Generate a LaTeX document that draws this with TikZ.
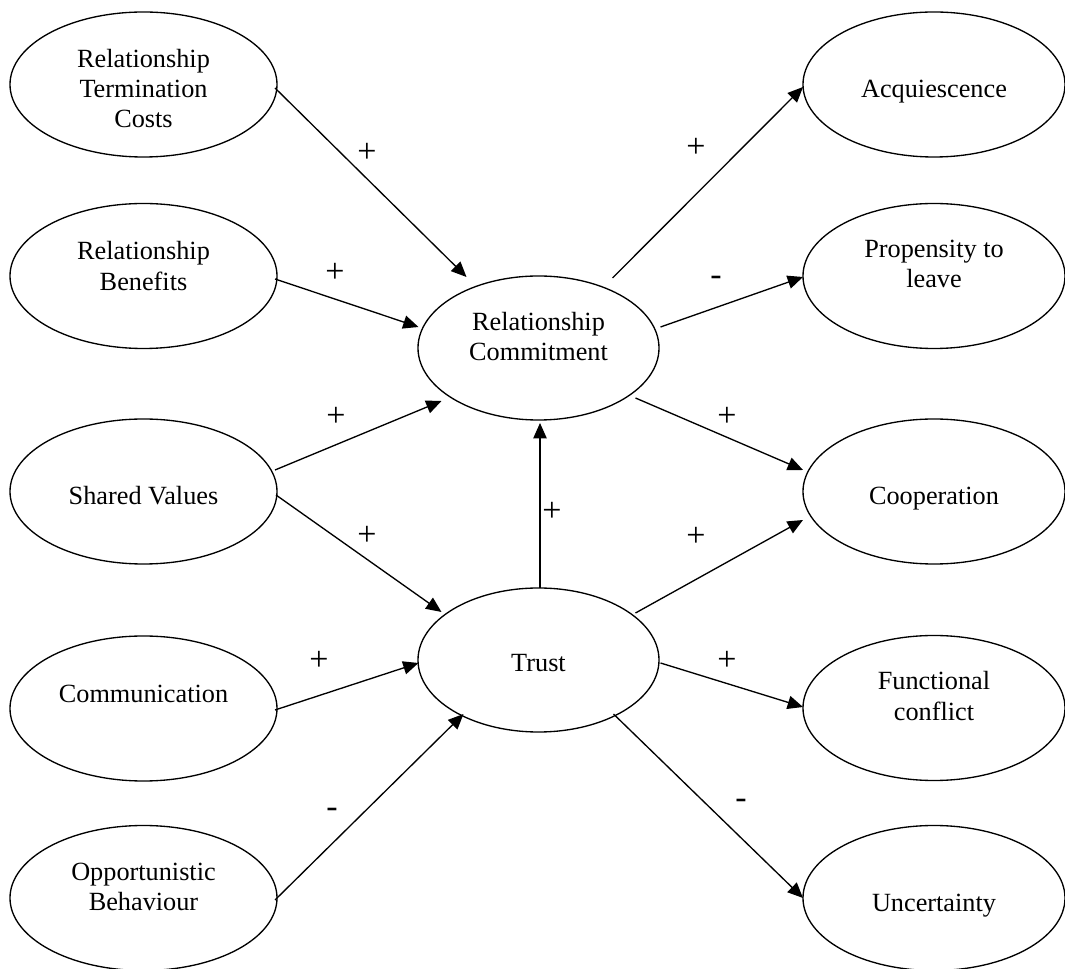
\documentclass[tikz,border=0pt]{standalone}
\usepackage{fontspec}
\setmainfont{Liberation Serif}
\usetikzlibrary{arrows.meta,shapes.geometric,calc}
\begin{document}
\begin{tikzpicture}[x=0.75pt,y=-0.75pt,
  ell/.style={draw, ellipse, line width=1pt, inner sep=0pt, outer sep=0pt},
  sidel/.style={ell, minimum width=200.25pt, minimum height=108.75pt},
  mid/.style={ell, minimum width=180.75pt, minimum height=108pt},
  sider/.style={ell, minimum width=196.5pt, minimum height=108.75pt},
  txt/.style={align=center, font=\fontsize{19.7}{22.6}\selectfont, inner sep=0pt},
  sgn/.style={font=\fontsize{25.5}{25.5}\selectfont, inner sep=0pt, text height=0.5em, text depth=0pt},
  arr/.style={line width=1pt, -{Triangle[length=11.5pt, width=10pt]}}]
\fill[white] (0,0) rectangle (1065,969);
\useasboundingbox (0,0) rectangle (1065,969);
% left column
\node[sidel, label={[txt,yshift=-3pt]center:{Relationship\\Termination\\Costs}}] (rtc) at (143.5,84.5) {};
\node[sidel, label={[txt,yshift=7.5pt]center:{Relationship\\Benefits}}] (rb) at (143.5,276) {};
\node[sidel, label={[txt,yshift=-3.4pt]center:{Shared Values}}] (sv) at (143.5,491.5) {};
\node[sidel, label={[txt,yshift=10.9pt]center:{Communication}}] (com) at (143.5,708.5) {};
\node[sidel, label={[txt,yshift=8.25pt]center:{Opportunistic\\Behaviour}}] (ob) at (143.5,898) {};
% middle
\node[mid, label={[txt,yshift=8.6pt]center:{Relationship\\Commitment}}] (rc) at (538.5,348) {};
\node[mid, label={[txt,yshift=-2.25pt]center:{Trust}}] (tr) at (538.5,660) {};
% right column
\node[sider, label={[txt,yshift=-5.6pt]center:{Acquiescence}}] (acq) at (934,84.5) {};
\node[sider, label={[txt,yshift=9pt]center:{Propensity to\\leave}}] (pro) at (934,276) {};
\node[sider, label={[txt,yshift=-5.6pt]center:{Cooperation}}] (coo) at (934,491.5) {};
\node[sider, label={[txt,yshift=9pt]center:{Functional\\conflict}}] (fc) at (934,708) {};
\node[sider, label={[txt,yshift=-5.6pt]center:{Uncertainty}}] (unc) at (934,898) {};
% connectors
\draw[arr] ($(rtc)+(131.5,3.5)$) -- ($(rc)+(-72,-71)$);
\draw[arr] ($(rb)+(131.5,3)$) -- ($(rc)+(-120,-21)$);
\draw[arr] ($(sv)+(131.5,-21.5)$) -- ($(rc)+(-97,53)$);
\draw[arr] ($(sv)+(132.5,3.5)$) -- ($(tr)+(-97,-48)$);
\draw[arr] ($(com)+(131.5,1.5)$) -- ($(tr)+(-120,3)$);
\draw[arr] ($(ob)+(131.5,2)$) -- ($(tr)+(-75,54)$);
\draw[arr] ($(tr)+(1.5,-72)$) -- ($(rc)+(1.5,75)$);
\draw[arr] ($(rc)+(74,-70)$) -- ($(acq)+(-131,2.5)$);
\draw[arr] ($(rc)+(122,-21)$) -- ($(pro)+(-131,1)$);
\draw[arr] ($(rc)+(97,50)$) -- ($(coo)+(-131,-21.5)$);
\draw[arr] ($(tr)+(97,-47)$) -- ($(coo)+(-131,28.5)$);
\draw[arr] ($(tr)+(122,3)$) -- ($(fc)+(-131,-1)$);
\draw[arr] ($(tr)+(75,54)$) -- ($(unc)+(-131,0)$);
% signs
\node[sgn] (s1) at (367,159) {+};
\node[sgn] (s2) at (335,279) {+};
\node[sgn] (s3) at (336,423) {+};
\node[sgn] (s4) at (367,542) {+};
\node[sgn] (s5) at (319,667) {+};
\node[sgn] (s6) at (332,814) {-};
\node[sgn] (s7) at (552,518) {+};
\node[sgn] (s8) at (696,154) {+};
\node[sgn] (s9) at (716,282) {-};
\node[sgn] (s10) at (727,423) {+};
\node[sgn] (s11) at (696,543) {+};
\node[sgn] (s12) at (727,667) {+};
\node[sgn] (s13) at (741,805) {-};
\end{tikzpicture}
\end{document}
